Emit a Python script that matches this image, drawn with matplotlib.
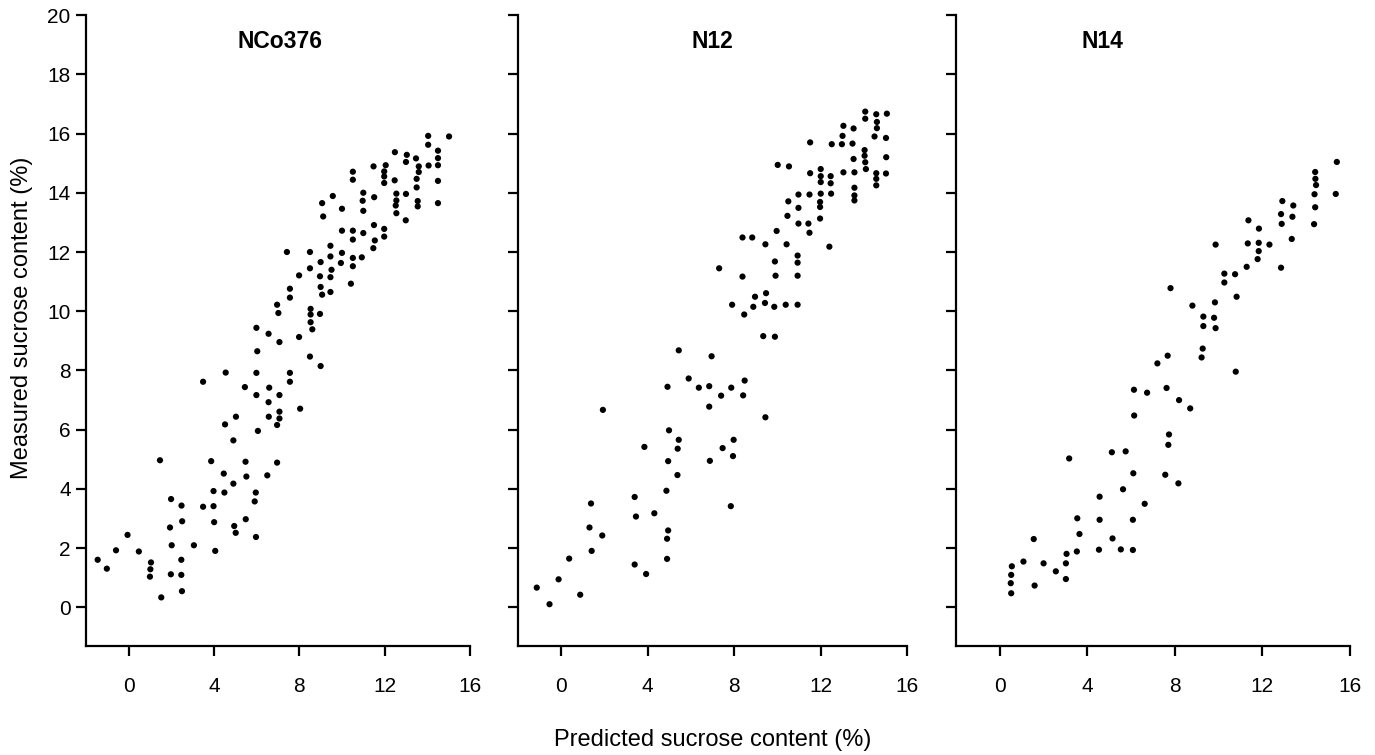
import matplotlib.pyplot as plt

plt.rcParams['font.family'] = ['Liberation Sans', 'DejaVu Sans']

# NCo376 - predicted vs measured sucrose (%)
nco376_x = [14.04, 14.04, 15.02, 14.06, 14.5, 14.5, 14.5, 14.5, 14.5, 13.47,
            13.6, 13.6, 13.5, 13.5, 13.55, 13.55, 13.04, 13.0, 13.0, 12.99,
            12.48, 12.47, 12.55, 12.55, 12.52, 12.55, 12.05, 11.98, 11.98, 11.98,
            11.98, 11.98, 11.48, 11.51, 11.5, 11.54, 11.47, 11.0, 10.97, 11.0,
            11.0, 10.93, 10.51, 10.51, 10.51, 10.51, 10.51, 10.51, 10.42, 10.0,
            10.0, 10.0, 9.95, 9.57, 9.46, 9.46, 9.51, 9.46, 9.46, 9.07,
            9.12, 9.0, 8.97, 9.0, 9.07, 8.97, 9.0, 8.5, 8.5, 8.53,
            8.53, 8.53, 8.61, 8.5, 7.99, 7.99, 7.56, 7.56, 7.56, 7.42,
            6.96, 7.02, 7.07, 6.56, 5.99, 6.03, 5.99, 4.55,
            7.56, 5.45, 6.59, 5.99, 7.07, 6.56, 3.49, 7.07, 7.07, 6.96,
            6.57, 8.04, 5.03, 4.52, 6.06, 4.91, 1.47, 3.87, 5.48, 6.96,
            4.46, 5.52, 6.5, 4.91, 3.98, 4.49, 5.96, 5.91, 1.99, 2.48,
            3.49, 3.98, 2.51, 4.01, 5.49, 1.94, 4.95, 5.02, 5.97, 2.02,
            3.06, -0.05, -0.59, 0.48, 4.06, -1.45, -1.02, 1.05, 1.02, 1.0,
            1.98, 2.47, 2.47, 2.5, 1.53]
nco376_y = [15.92, 15.62, 15.9, 14.92, 15.42, 15.17, 14.93, 14.4, 13.65, 15.16,
            14.89, 14.7, 14.47, 14.18, 13.72, 13.54, 15.28, 15.04, 13.96, 13.07,
            15.37, 14.42, 13.97, 13.74, 13.57, 13.31, 14.93, 14.72, 14.55, 14.33,
            12.78, 12.52, 14.89, 13.85, 12.91, 12.39, 12.13, 14.0, 13.73, 13.39,
            12.64, 11.82, 14.71, 14.44, 12.72, 12.42, 11.8, 11.52, 10.93, 13.46,
            12.72, 11.97, 11.63, 13.89, 12.21, 11.85, 11.4, 11.15, 10.65, 13.65,
            13.2, 11.66, 11.18, 10.82, 10.56, 9.91, 8.15, 12.0, 11.45, 10.08,
            9.89, 9.63, 9.39, 8.47, 11.21, 9.13, 10.76, 10.46, 7.92, 12.0,
            10.22, 9.94, 8.96, 9.24, 9.44, 8.65, 7.92, 7.93,
            7.62, 7.44, 7.42, 7.17, 7.17, 6.93, 7.62, 6.61, 6.38, 6.16,
            6.44, 6.71, 6.44, 6.18, 5.96, 5.64, 4.97, 4.94, 4.92, 4.89,
            4.52, 4.42, 4.46, 4.18, 3.93, 3.88, 3.88, 3.58, 3.66, 3.44,
            3.4, 3.42, 2.91, 2.88, 2.98, 2.7, 2.75, 2.52, 2.38, 2.1,
            2.1, 2.45, 1.93, 1.89, 1.91, 1.61, 1.31, 1.52, 1.29, 1.04,
            1.12, 1.61, 1.1, 0.55, 0.34]

# N12
n12_x = [14.07, 14.07, 14.58, 14.61, 14.61, 14.5, 15.07, 15.03, 15.04, 15.03,
         14.58, 14.58, 14.58, 14.04, 14.04, 14.07, 14.1, 13.53, 13.57, 13.57,
         13.57, 13.57, 13.06, 13.02, 12.99, 13.48, 13.53, 12.52, 13.06, 12.47,
         12.47, 12.49, 12.41, 12.01, 12.01, 12.01, 12.01, 11.98, 11.98, 11.98,
         11.52, 11.52, 11.49, 11.44, 11.49, 10.98, 10.98, 10.98, 10.94, 10.94,
         10.94, 10.51, 10.47, 10.43, 10.02, 10.54, 9.97, 9.89, 9.92, 9.45,
         8.39, 8.84, 7.31, 8.39, 8.97, 9.48, 7.91, 8.89, 9.43, 9.86,
         10.39, 10.94, 8.47, 9.35, 9.89, 5.44, 6.96,
         5.9, 4.92, 6.37, 6.85, 7.87, 8.49, 7.4, 8.42, 6.85, 9.45,
         1.93, 4.99, 5.44, 3.85, 5.39, 7.47, 7.98, 4.95, 7.95, 6.88,
         5.38, 4.87, 3.4, 7.85, 1.38, 3.46, 4.31, 1.31, 1.9, 4.95,
         4.9, 1.41, 4.9, 0.37, 3.4, 3.93, -0.12, -1.13, 0.88, -0.54]
n12_y = [16.74, 16.5, 16.65, 16.39, 16.18, 15.9, 16.67, 15.85, 15.2, 14.65,
         14.66, 14.47, 14.25, 15.44, 15.25, 15.03, 14.8, 15.14, 14.69, 14.17,
         13.91, 13.74, 16.26, 15.92, 15.64, 15.66, 16.17, 15.64, 14.69, 14.56,
         14.32, 13.97, 12.18, 14.8, 14.56, 14.36, 13.97, 13.69, 13.52, 13.13,
         15.7, 14.66, 13.94, 12.96, 12.65, 13.94, 13.49, 12.96, 11.88, 11.64,
         11.2, 13.71, 13.22, 12.26, 14.94, 14.89, 12.71, 11.68, 11.2, 12.26,
         12.49, 12.49, 11.45, 11.17, 10.49, 10.61, 10.22, 10.15, 10.28, 10.15,
         10.22, 10.22, 9.89, 9.16, 9.14, 8.68, 8.48,
         7.73, 7.45, 7.42, 7.47, 7.42, 7.66, 7.15, 7.16, 6.78, 6.42,
         6.67, 5.98, 5.66, 5.42, 5.36, 5.38, 5.66, 4.94, 5.11, 4.95,
         4.47, 3.94, 3.73, 3.42, 3.51, 3.07, 3.18, 2.7, 2.43, 2.6,
         2.32, 1.91, 1.64, 1.65, 1.45, 1.13, 0.95, 0.67, 0.43, 0.11]

# N14
n14_x = [15.4, 15.35, 14.41, 14.42, 14.45, 14.38, 14.41, 14.36, 12.91, 13.41,
         12.85, 13.37, 12.88, 13.34, 12.85, 11.36, 11.84, 11.33, 11.83, 12.32,
         11.83, 11.78, 11.28, 9.86, 10.26, 10.75, 10.26, 10.82, 7.8, 9.83,
         8.8, 9.3, 9.79, 9.3, 9.86, 9.27, 9.22, 7.67, 7.2, 10.78,
         6.13, 6.73, 7.62, 8.19, 8.7, 6.14, 7.73, 7.7, 3.17, 5.12,
         5.75, 6.1, 7.56, 8.16, 5.63, 4.56, 6.62, 3.54, 4.56, 6.08,
         3.64, 5.15, 1.55, 4.53, 5.53, 6.08, 3.52, 3.05, 3.02, 0.55,
         1.08, 2.0, 2.56, 0.52, 0.5, 0.52, 3.02, 1.59]
n14_y = [15.04, 13.96, 14.7, 14.47, 14.26, 13.95, 13.51, 12.94, 13.72, 13.57,
         13.28, 13.19, 12.95, 12.44, 11.47, 13.07, 12.79, 12.29, 12.31, 12.25,
         12.03, 11.76, 11.5, 12.25, 11.27, 11.25, 10.97, 10.49, 10.78, 10.3,
         10.19, 9.82, 9.78, 9.5, 9.43, 8.74, 8.44, 8.5, 8.24, 7.96,
         7.35, 7.25, 7.41, 7.0, 6.72, 6.48, 5.84, 5.49, 5.03, 5.24,
         5.27, 4.53, 4.48, 4.19, 3.99, 3.74, 3.5, 3.01, 2.96, 2.96,
         2.48, 2.33, 2.31, 1.95, 1.96, 1.94, 1.89, 1.81, 1.49, 1.39,
         1.55, 1.49, 1.22, 1.1, 0.82, 0.48, 0.96, 0.74]

varieties = ['NCo376', 'N12', 'N14']
title_x = [7.1, 7.0, 4.7]
x_ticks = [0, 4, 8, 12, 16]
y_ticks = [0, 2, 4, 6, 8, 10, 12, 14, 16, 18, 20]

fig = plt.figure(figsize=(13.75, 7.55), dpi=100)

# axes boxes in figure fractions (left, bottom, width, height)
boxes = [(0.0625, 0.1444, 0.2793, 0.8357),
         (0.3767, 0.1444, 0.2829, 0.8357),
         (0.6953, 0.1444, 0.2865, 0.8357)]
data = [(nco376_x, nco376_y), (n12_x, n12_y), (n14_x, n14_y)]

for i, (box, (xs, ys)) in enumerate(zip(boxes, data)):
    ax = fig.add_axes(box)
    ax.scatter(xs, ys, s=20, color='black', edgecolors='none')
    ax.set_xlim(-2, 16)
    ax.set_ylim(-1.3, 20)
    ax.set_xticks(x_ticks)
    ax.set_yticks(y_ticks)
    ax.spines['top'].set_visible(False)
    ax.spines['right'].set_visible(False)
    for s in ('left', 'bottom'):
        ax.spines[s].set_linewidth(1.6)
    ax.tick_params(direction='out', length=7, width=1.6, labelsize=15)
    ax.tick_params(axis='x', pad=15)
    ax.tick_params(axis='y', pad=4)
    if i > 0:
        ax.set_yticklabels([])
    ax.text(title_x[i], 19.1, varieties[i], fontsize=16.5, fontweight='bold',
            ha='center', va='center')

fig.text(0.016, 0.579, 'Measured sucrose content (%)', rotation=90,
         fontsize=17, ha='center', va='center')
fig.text(0.5185, 0.02, 'Predicted sucrose content (%)', fontsize=17,
         ha='center', va='center')

fig.savefig('out.png', dpi=100)
